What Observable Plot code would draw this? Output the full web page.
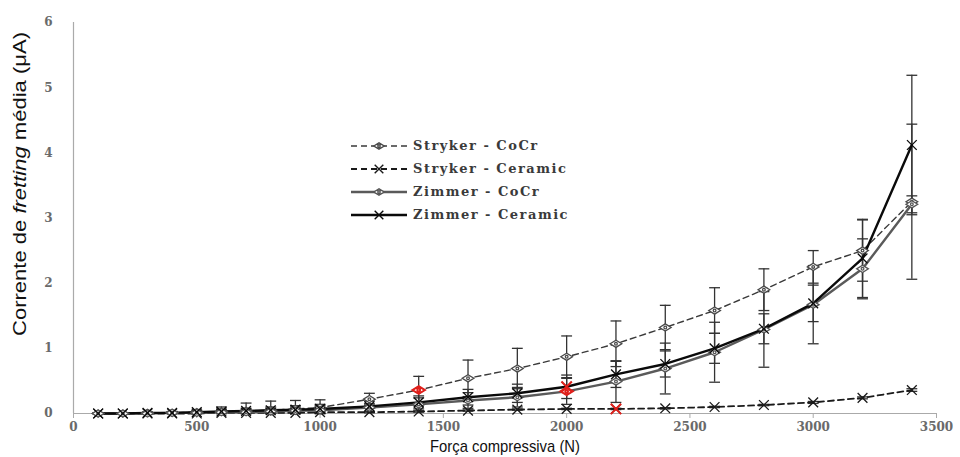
<!DOCTYPE html>
<html><head><meta charset="utf-8">
<script src="https://cdn.jsdelivr.net/npm/d3@7"></script>
<script src="https://cdn.jsdelivr.net/npm/@observablehq/plot@0.6"></script>
<style>
html,body{margin:0;padding:0;background:#fff;}
#wrap{position:relative;width:960px;height:457px;overflow:hidden;}
#legend{position:absolute;left:350px;top:134px;font-family:"DejaVu Serif";font-weight:bold;font-size:13px;letter-spacing:1.5px;color:#3a3a3a;}
.row{height:23px;display:flex;align-items:center;}
.row svg{margin-right:5px;}
svg text{font-family:"DejaVu Serif";}
g[aria-label="x-axis tick label"] text, g[aria-label="y-axis tick label"] text{fill:#6a6a6a;}
</style></head>
<body><div id="wrap"><div id="chart"></div><div id="legend"></div></div>
<script>
// ---- data ----
const force = [100,200,300,400,500,600,700,800,900,1000,1200,1400,1600,1800,2000,2200,2400,2600,2800,3000,3200,3400];
const seriesNames = ["Stryker - CoCr","Stryker - Ceramic","Zimmer - CoCr","Zimmer - Ceramic"];
const strykerCoCr    = [0.00,0.00,0.01,0.01,0.02,0.03,0.04,0.05,0.07,0.09,0.22,0.36,0.54,0.69,0.87,1.07,1.32,1.58,1.90,2.25,2.50,3.25];
const strykerCoCrErr = [0.01,0.01,0.01,0.02,0.03,0.07,0.12,0.14,0.13,0.12,0.09,0.21,0.28,0.31,0.32,0.35,0.34,0.35,0.32,0.25,0.47,1.19];
const strykerCer     = [0.00,0.00,0.00,0.00,0.00,0.01,0.01,0.01,0.01,0.02,0.02,0.03,0.045,0.06,0.07,0.07,0.08,0.10,0.13,0.17,0.24,0.36];
const strykerCerErr  = [0.005,0.005,0.005,0.005,0.005,0.005,0.01,0.01,0.01,0.01,0.01,0.01,0.01,0.01,0.01,0.01,0.01,0.01,0.01,0.015,0.015,0.02];
const zimmerCoCr     = [0.00,0.00,0.00,0.01,0.01,0.02,0.02,0.03,0.04,0.05,0.09,0.14,0.20,0.25,0.34,0.49,0.69,0.94,1.29,1.67,2.22,3.21];
const zimmerCoCrErr  = [0.01,0.01,0.01,0.01,0.02,0.03,0.04,0.05,0.06,0.07,0.06,0.10,0.12,0.15,0.20,0.32,0.39,0.46,0.58,0.60,0.46,0.13];
const zimmerCer      = [0.00,0.00,0.01,0.01,0.02,0.03,0.04,0.05,0.06,0.07,0.11,0.17,0.25,0.31,0.41,0.60,0.76,1.00,1.30,1.69,2.38,4.12];
const zimmerCerErr   = [0.01,0.01,0.01,0.02,0.02,0.03,0.04,0.05,0.06,0.07,0.08,0.10,0.12,0.14,0.18,0.20,0.20,0.23,0.23,0.28,0.60,1.07];
// highlighted (red) points
const redSeries = ["Stryker - CoCr","Zimmer - CoCr","Zimmer - Ceramic","Stryker - Ceramic"];
const redForce  = [1400,2000,2000,2200];
const xTicks = [0,500,1000,1500,2000,2500,3000,3500];
const yTicks = [0,1,2,3,4,5,6];

// ---- styles ----
const flatDiamond = {draw(ctx, size){
  const r = Math.sqrt(size/Math.PI);
  const w = r*1.3, h = r*0.8;
  ctx.moveTo(-w,0); ctx.lineTo(0,-h); ctx.lineTo(w,0); ctx.lineTo(0,h); ctx.closePath();
  const c = r*0.3; ctx.moveTo(c,0); ctx.arc(0,0,c,0,2*Math.PI);
}};
const styles = {
  "Stryker - CoCr":   {stroke:"#3a3a3a", width:1.4, dash:"6,4", symbol:flatDiamond, mstroke:"#4a4a4a"},
  "Stryker - Ceramic":{stroke:"#1a1a1a", width:1.8, dash:"6,4", symbol:"times", mstroke:"#1a1a1a"},
  "Zimmer - CoCr":    {stroke:"#5a5a5a", width:2.4, dash:null, symbol:flatDiamond, mstroke:"#555"},
  "Zimmer - Ceramic": {stroke:"#0a0a0a", width:2.4, dash:null, symbol:"times", mstroke:"#0a0a0a"}
};
const values = [strykerCoCr, strykerCer, zimmerCoCr, zimmerCer];
const errs = [strykerCoCrErr, strykerCerErr, zimmerCoCrErr, zimmerCerErr];
const rows = [];
seriesNames.forEach((s,i)=>force.forEach((f,j)=>rows.push({series:s, force:f, value:values[i][j], err:errs[i][j]})));
const redRows = redSeries.map((s,k)=>rows.find(r=>r.series===s && r.force===redForce[k]));

const capW = 22;
const marks = [
  Plot.ruleY([0], {stroke:"#aaa", strokeWidth:1}),
  Plot.ruleX([0], {stroke:"#aaa", strokeWidth:1.2}),
  Plot.axisX({ticks:xTicks, tickFormat:d=>String(d), tickSize:5, tickPadding:4, stroke:"#aaa", label:null, fontSize:12}),
  Plot.axisY({ticks:yTicks, tickFormat:d=>String(d), tickSize:0, tickPadding:21, label:null, fontSize:12}),
  Plot.ruleX(rows, {x:"force", y1:d=>Math.max(0,d.value-d.err), y2:d=>d.value+d.err, stroke:"#333", strokeWidth:1.3}),
  Plot.link(rows, {x1:d=>d.force-capW, x2:d=>d.force+capW, y1:d=>d.value+d.err, y2:d=>d.value+d.err, stroke:"#333", strokeWidth:1.3}),
  Plot.link(rows, {x1:d=>d.force-capW, x2:d=>d.force+capW, y1:d=>Math.max(0,d.value-d.err), y2:d=>Math.max(0,d.value-d.err), stroke:"#333", strokeWidth:1.3}),
];
seriesNames.forEach(s=>{
  const st = styles[s];
  const data = rows.filter(r=>r.series===s);
  marks.push(Plot.line(data, {x:"force", y:"value", stroke:st.stroke, strokeWidth:st.width, strokeDasharray:st.dash}));
});
seriesNames.forEach(s=>{
  const st = styles[s];
  const data = rows.filter(r=>r.series===s);
  marks.push(Plot.dot(data, {x:"force", y:"value", symbol:st.symbol, r:4.5, stroke:st.mstroke, strokeWidth:1.3, fill:"white"}));
});
redRows.forEach(d=>{
  marks.push(Plot.dot([d], {x:"force", y:"value", symbol:styles[d.series].symbol, r:4.8, stroke:"#e0201b", strokeWidth:2, fill:"white"}));
});

const svg = Plot.plot({
  width:960, height:457,
  marginTop:22, marginBottom:44, marginLeft:73, marginRight:24,
  x:{domain:[0,3500]},
  y:{domain:[0,6]},
  style:{fontFamily:"DejaVu Serif", fontSize:"12px", fontWeight:"bold", background:"white"},
  marks
});
document.getElementById("chart").appendChild(svg);

// axis titles
const s = d3.select(svg);
s.append("text").attr("x",430).attr("y",452).attr("text-anchor","start")
  .attr("textLength",150).attr("lengthAdjust","spacingAndGlyphs")
  .style("font-family","'Liberation Sans'").style("font-weight","normal").style("font-size","17px").attr("fill","#111")
  .text("Força compressiva (N)");
const yt = s.append("text").attr("transform","translate(26,336) rotate(-90)").attr("text-anchor","start")
  .attr("textLength",304).attr("lengthAdjust","spacingAndGlyphs")
  .style("font-family","'Liberation Sans'").style("font-weight","normal").style("font-size","18px").attr("fill","#111");
yt.append("tspan").text("Corrente de ");
yt.append("tspan").style("font-style","italic").text("fretting");
yt.append("tspan").text(" média (μA)");

// legend
const leg = d3.select("#legend");
seriesNames.forEach(name=>{
  const st = styles[name];
  const row = leg.append("div").attr("class","row");
  const sw = row.append("svg").attr("width",58).attr("height",14);
  sw.append("line").attr("x1",1).attr("x2",57).attr("y1",7).attr("y2",7)
    .attr("stroke",st.stroke).attr("stroke-width",st.width).attr("stroke-dasharray",st.dash);
  const sym = typeof st.symbol === "string" ? d3.symbolTimes : st.symbol;
  sw.append("path").attr("transform","translate(29,7)").attr("d",d3.symbol(sym, Math.PI*16)())
    .attr("stroke",st.mstroke).attr("stroke-width",1.4).attr("fill","white");
  row.append("span").text(name);
});
</script></body></html>
